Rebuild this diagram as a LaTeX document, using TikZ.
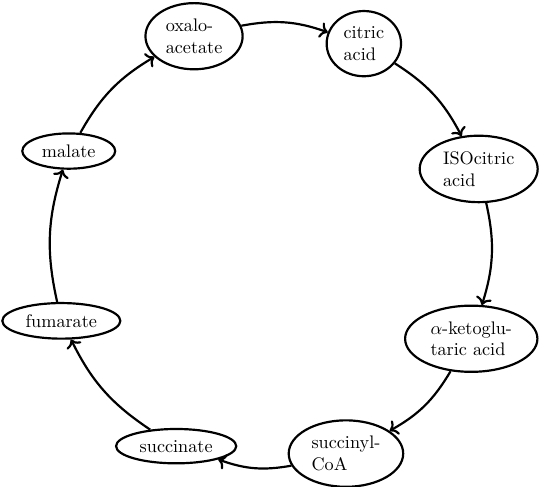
\documentclass[tikz,border=0pt]{standalone}
\usepackage{amsmath,amssymb}
\usepackage{tikz}
\usetikzlibrary{arrows.meta,shapes.geometric}

\begin{document}
\begin{tikzpicture}[
          stage/.style={draw, ellipse, very thick, align=left},
          arr/.style={->, very thick},
        ]
          \useasboundingbox (-5.216,-4.675) rectangle (5.216,4.731);
          \node[stage] (oxa)  at (110:4.29)  {oxalo-\\acetate};
          \node[stage] (cit)  at (65:4.29)   {citric\\acid};
          \node[stage] (iso)  at (20:4.29)   {ISOcitric\\acid};
          \node[stage] (akg)  at (-25:4.29)  {$\alpha$-ketoglu-\\taric acid};
          \node[stage] (scoa) at (-70:4.29)  {succinyl-\\CoA};
          \node[stage] (succ) at (-115:4.29) {succinate};
          \node[stage] (fum)  at (-160:4.29) {fumarate};
          \node[stage] (mal)  at (155:4.29)  {malate};
          \draw[arr] (oxa)  to[bend left=15] (cit);
          \draw[arr] (cit)  to[bend left=15] (iso);
          \draw[arr] (iso)  to[bend left=15] (akg);
          \draw[arr] (akg)  to[bend left=15] (scoa);
          \draw[arr] (scoa) to[bend left=15] (succ);
          \draw[arr] (succ) to[bend left=15] (fum);
          \draw[arr] (fum)  to[bend left=15] (mal);
          \draw[arr] (mal)  to[bend left=15] (oxa);
        \end{tikzpicture}
\end{document}
